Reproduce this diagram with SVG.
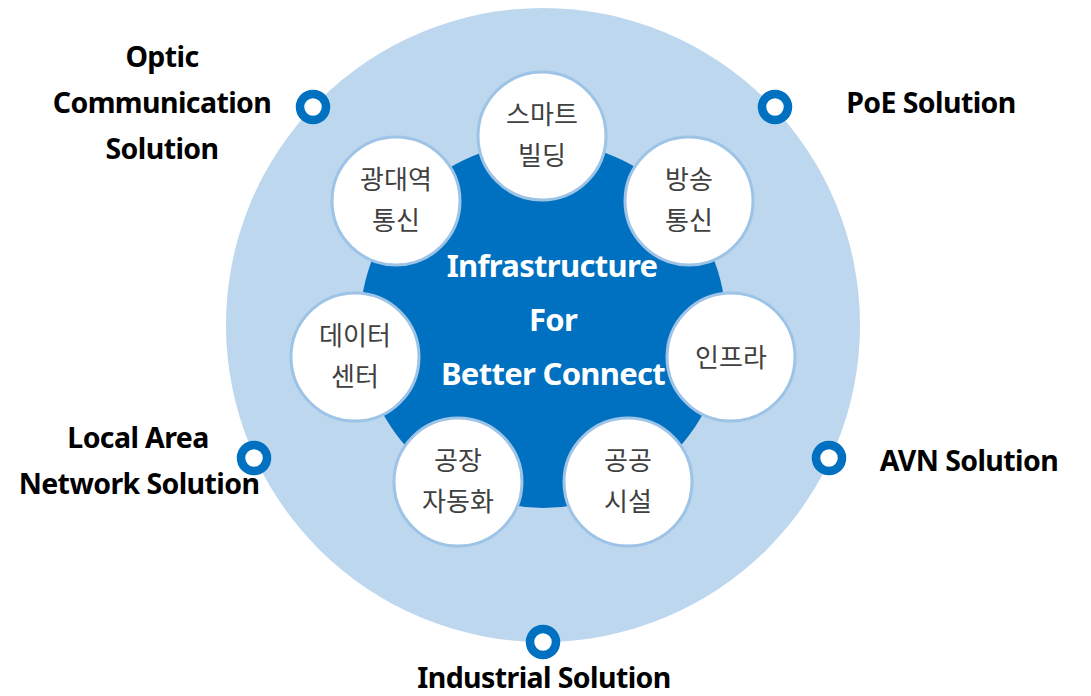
<svg xmlns="http://www.w3.org/2000/svg" width="1091" height="696" viewBox="0 0 1091 696">
<defs>
<style>
.outer{fill:#bdd7ee}
.core{fill:#0070c0}
.node circle{fill:#ffffff;stroke:#9dc3e6;stroke-width:3}
.kt{font-family:"Noto Sans CJK KR","Noto Sans",sans-serif;font-size:26px;fill:#404040;text-anchor:middle}
.ct{font-family:"Noto Sans","Open Sans",sans-serif;font-weight:bold;font-size:31px;fill:#ffffff;text-anchor:middle;letter-spacing:-0.7px}
.lbl{font-family:"Noto Sans","Open Sans",sans-serif;font-weight:bold;font-size:28.5px;fill:#000000;text-anchor:middle;letter-spacing:-0.6px}
.mk{fill:#ffffff;stroke:#0070c0;stroke-width:8.5}
</style>
</defs>
<rect width="1091" height="696" fill="#ffffff"/>
<g id="ring"><circle class="outer" cx="543" cy="325" r="317"/></g>
<g id="core">
<circle class="core" cx="543" cy="325" r="183"/>
<text class="ct" x="552" y="277">Infrastructure</text>
<text class="ct" x="553" y="331">For</text>
<text class="ct" x="553" y="385" letter-spacing="-0.2">Better Connect</text>
</g>
<g id="connectors"></g>
<g id="n-smart" class="node"><circle cx="542" cy="136" r="64"/><text class="kt" x="542" y="124">스마트</text><text class="kt" x="542" y="165">빌딩</text></g>
<g id="n-broadcast" class="node"><circle cx="689" cy="201" r="64"/><text class="kt" x="689" y="189">방송</text><text class="kt" x="689" y="230">통신</text></g>
<g id="n-infra" class="node"><circle cx="731" cy="357" r="64"/><text class="kt" x="731" y="367">인프라</text></g>
<g id="n-public" class="node"><circle cx="628" cy="482" r="64"/><text class="kt" x="628" y="470">공공</text><text class="kt" x="628" y="511">시설</text></g>
<g id="n-factory" class="node"><circle cx="458" cy="482" r="64"/><text class="kt" x="458" y="470">공장</text><text class="kt" x="458" y="511">자동화</text></g>
<g id="n-data" class="node"><circle cx="355" cy="357" r="64"/><text class="kt" x="355" y="345">데이터</text><text class="kt" x="355" y="386">센터</text></g>
<g id="n-broadband" class="node"><circle cx="396" cy="201" r="64"/><text class="kt" x="396" y="189">광대역</text><text class="kt" x="396" y="230">통신</text></g>
<g id="s-optic"><circle class="mk" cx="313" cy="107" r="13"/><text class="lbl" x="162" y="67">Optic</text><text class="lbl" x="162" y="113">Communication</text><text class="lbl" x="162" y="159">Solution</text></g>
<g id="s-poe"><circle class="mk" cx="775" cy="107" r="13"/><text class="lbl" x="931" y="113">PoE Solution</text></g>
<g id="s-lan"><circle class="mk" cx="254" cy="458" r="13"/><text class="lbl" x="138" y="448">Local Area</text><text class="lbl" x="139" y="494">Network Solution</text></g>
<g id="s-avn"><circle class="mk" cx="829" cy="458" r="13"/><text class="lbl" x="969" y="471">AVN Solution</text></g>
<g id="s-industrial"><circle class="mk" cx="543" cy="642" r="13"/><text class="lbl" x="544" y="688">Industrial Solution</text></g>
</svg>
